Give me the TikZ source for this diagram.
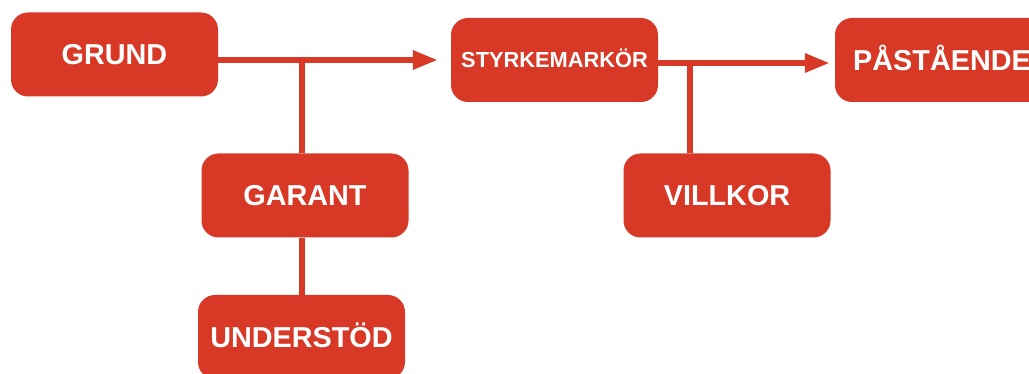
\documentclass[tikz,border=0pt]{standalone}
\usepackage{fontspec}
\setmainfont{Liberation Sans}
\usetikzlibrary{arrows.meta}
\definecolor{boxred}{RGB}{216,57,38}
\begin{document}
\begin{tikzpicture}[x=1pt,y=-1pt,
  box/.style={fill=boxred, rounded corners=17pt, minimum width=207pt, minimum height=84pt,
    inner sep=0pt, text=white, font=\bfseries\fontsize{28.8}{28.8}\selectfont,
    text height=20.5pt, text depth=0pt},
  small/.style={font=\bfseries\fontsize{21.8}{21.8}\selectfont, text height=15pt},
  conn/.style={draw=boxred, line width=6pt},
  arr/.style={conn, -{Triangle[length=25pt,width=18pt]}}]
\clip (0,0) rectangle (1029,374);
\node[box] (grund) at (114.5,54.5) {GRUND};
\node[box,small] (styrk) at (554.5,60) {STYRKEMARKÖR};
\node[box, minimum width=214pt] (past) at (942,60) {PÅSTÅENDE};
\node[box] (garant) at (305,195.5) {GARANT};
\node[box] (villkor) at (727,195.5) {VILLKOR};
\node[box] (underst) at (301.5,337) {UNDERSTÖD};
\coordinate (j1) at (302,60);
\coordinate (j2) at (690,63);
\draw[arr, shorten >=13pt] (grund.east |- j1) -- (styrk.west |- j1);
\draw[conn] (j1) -- (garant.north -| j1);
\draw[conn] (garant.south -| j1) -- (underst.north -| j1);
\draw[arr, shorten >=5pt] (styrk.east |- j2) -- (past.west |- j2);
\draw[conn] (j2) -- (villkor.north -| j2);
\end{tikzpicture}
\end{document}
